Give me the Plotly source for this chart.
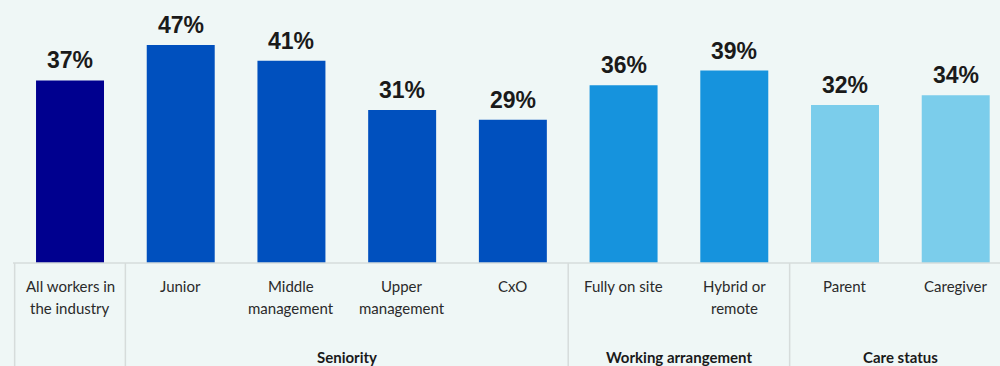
import plotly.graph_objects as go

categories = ["All workers in<br>the industry", "Junior", "Middle<br>management", "Upper<br>management", "CxO",
              "Fully on site", "Hybrid or<br>remote", "Parent", "Caregiver"]
values = [37, 47, 41, 31, 29, 36, 39, 32, 34]
groups = ["", "Seniority", "Seniority", "Seniority", "Seniority",
          "Working arrangement", "Working arrangement", "Care status", "Care status"]
group_colors = {"": "#00008F", "Seniority": "#0050BE", "Working arrangement": "#1693DD", "Care status": "#7BCDEB"}

BG = "#EFF7F6"
LINE = "#D6DCDB"
Y_MAX = 44.17  # visible axis top (the tallest bar is cut at the plot top, as in the original)

idx = list(range(len(categories)))
fig = go.Figure(go.Bar(
    x=idx, y=values,
    marker=dict(color=[group_colors[g] for g in groups], line=dict(width=0)),
    width=0.614, hoverinfo="skip", cliponaxis=True,
))

annotations = []
for i, (c, v) in enumerate(zip(categories, values)):
    annotations.append(dict(x=i, y=min(v, Y_MAX), xref="x", yref="y", text=f"{v}%", showarrow=False,
                            yanchor="bottom", yshift=5,
                            font=dict(family="Liberation Sans, Arial", size=23, color="#1A1A1A",
                                      weight="bold")))
    for k, line in enumerate(c.split("<br>")):
        annotations.append(dict(x=i, y=0, xref="x", yref="paper", text=line, showarrow=False,
                                yanchor="top", yshift=-12 - 22 * k,
                                font=dict(family="Lato", size=15, color="#2A2A2A")))

seen = []
for g in groups:
    if g not in seen:
        seen.append(g)
shapes = []
for g in seen:
    members = [i for i, gg in enumerate(groups) if gg == g]
    lo, hi = members[0] - 0.5, members[-1] + 0.5
    shapes.append(dict(type="line", xref="x", yref="paper", x0=lo, x1=lo, y0=0, y1=-0.5,
                       line=dict(color=LINE, width=1.5)))
    if g:
        annotations.append(dict(x=(lo + hi) / 2, y=0, xref="x", yref="paper", text=f"<b>{g}</b>",
                                showarrow=False, yanchor="top", yshift=-83,
                                font=dict(family="Lato", size=15, color="#1A1A1A")))
shapes.append(dict(type="line", xref="paper", yref="paper", x0=0, x1=1, y0=0, y1=0,
                   line=dict(color=LINE, width=1.5)))

fig.update_layout(
    width=1000, height=366,
    margin=dict(l=13, r=0, t=45, b=103),
    paper_bgcolor=BG, plot_bgcolor=BG,
    showlegend=False,
    xaxis=dict(range=[-0.515, 8.4], showticklabels=False, showgrid=False, zeroline=False,
               showline=False, fixedrange=True),
    yaxis=dict(range=[0, Y_MAX], visible=False, fixedrange=True),
    annotations=annotations,
    shapes=shapes,
)

fig.write_html("out.html", config={"displayModeBar": False})
